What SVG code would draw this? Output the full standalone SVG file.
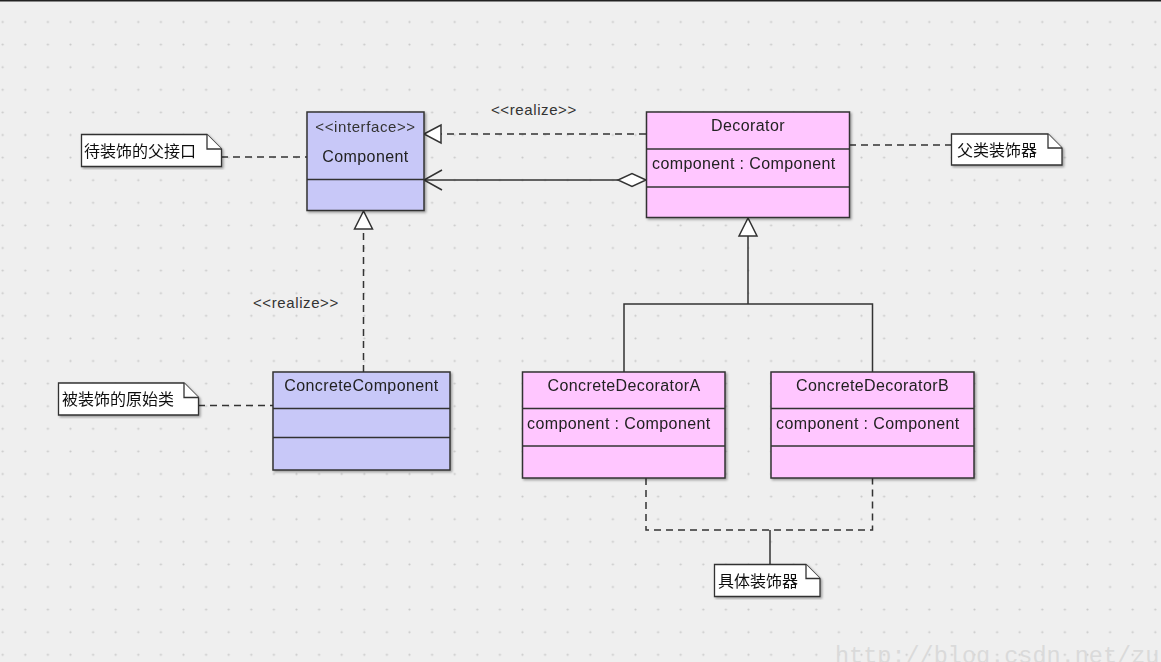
<svg xmlns="http://www.w3.org/2000/svg" width="1161" height="662" viewBox="0 0 1161 662">
<defs>
<pattern id="grid" patternUnits="userSpaceOnUse" x="-8.6" y="10.7" width="22.6" height="22.6">
<circle cx="11.3" cy="11.3" r="1.1" fill="#c9c9c9"/>
</pattern>
<filter id="sh" x="-5%" y="-5%" width="115%" height="115%">
<feDropShadow dx="1.5" dy="1.5" stdDeviation="0.8" flood-color="#000" flood-opacity="0.35"/>
</filter>
</defs>
<style>
.bg{fill:#efefef}
.iface{fill:#c8c8f8;stroke:#333;stroke-width:1.5}
.deco{fill:#ffc6ff;stroke:#333;stroke-width:1.5}
.div{stroke:#333;stroke-width:1.5}
.note{fill:#fff;stroke:#333;stroke-width:1.3}
.t{font-family:"Liberation Sans",Arial,sans-serif;font-size:16px;fill:#222;letter-spacing:0.4px}
.s{font-family:"Liberation Sans",Arial,sans-serif;font-size:15px;fill:#333;letter-spacing:0.6px}
.c{font-family:"Liberation Sans","Noto Sans CJK SC",sans-serif;font-size:16px;fill:#111}
.dash{fill:none;stroke:#333;stroke-width:1.5;stroke-dasharray:7,5}
.solid{fill:none;stroke:#333;stroke-width:1.5}
.hollow{fill:#fff;stroke:#333;stroke-width:1.5}
</style>
<rect class="bg" x="0" y="0" width="1161" height="662"/>
<rect x="0" y="0" width="1161" height="662" fill="url(#grid)"/>
<rect x="0" y="0" width="1161" height="1.5" fill="#222"/>

<g id="connectors">
<path class="dash" d="M646,134 H441"/>
<path class="hollow" d="M424,134 L441,125 L441,143 Z"/>
<text class="s" x="491" y="115">&lt;&lt;realize&gt;&gt;</text>
<path class="solid" d="M424,180 H618"/>
<path class="solid" d="M442,170 L424,180 L442,190"/>
<path class="hollow" d="M646,180 L632,173.5 L618,180 L632,186.5 Z"/>
<path class="dash" d="M363.5,372 V229"/>
<path class="hollow" d="M363.5,211 L354.5,229 L372.5,229 Z"/>
<text class="s" x="253" y="308">&lt;&lt;realize&gt;&gt;</text>
<path class="solid" d="M624,372 V304 H872.5 V372 M748,304 V236"/>
<path class="hollow" d="M748,218 L739,236 L757,236 Z"/>
<path class="dash" d="M221,157 H307"/>
<path class="dash" d="M849,145 H951"/>
<path class="dash" d="M198,405.5 H273"/>
<path class="dash" d="M646,478 V530 H872.5 V478"/>
<path class="solid" d="M770,530 V564"/>
</g>

<g id="component" filter="url(#sh)">
<rect class="iface" x="307" y="112" width="117" height="98.5"/>
<line class="div" x1="307" y1="179.5" x2="424" y2="179.5"/>
<text class="s" x="365.5" y="132" text-anchor="middle">&lt;&lt;interface&gt;&gt;</text>
<text class="t" x="365.5" y="162" text-anchor="middle">Component</text>
</g>

<g id="decorator" filter="url(#sh)">
<rect class="deco" x="646.5" y="112" width="203" height="105.5"/>
<line class="div" x1="646.5" y1="149" x2="849.5" y2="149"/>
<line class="div" x1="646.5" y1="187" x2="849.5" y2="187"/>
<text class="t" x="748" y="131" text-anchor="middle">Decorator</text>
<text class="t" x="652" y="169">component : Component</text>
</g>

<g id="concreteComponent" filter="url(#sh)">
<rect class="iface" x="273" y="372" width="177" height="98"/>
<line class="div" x1="273" y1="408.5" x2="450" y2="408.5"/>
<line class="div" x1="273" y1="437.5" x2="450" y2="437.5"/>
<text class="t" x="361.5" y="391" text-anchor="middle">ConcreteComponent</text>
</g>

<g id="concreteDecoratorA" filter="url(#sh)">
<rect class="deco" x="522.5" y="372" width="202.5" height="106"/>
<line class="div" x1="522.5" y1="408.5" x2="725" y2="408.5"/>
<line class="div" x1="522.5" y1="446" x2="725" y2="446"/>
<text class="t" x="624" y="391" text-anchor="middle">ConcreteDecoratorA</text>
<text class="t" x="527" y="429">component : Component</text>
</g>

<g id="concreteDecoratorB" filter="url(#sh)">
<rect class="deco" x="771" y="372" width="203" height="106"/>
<line class="div" x1="771" y1="408.5" x2="974" y2="408.5"/>
<line class="div" x1="771" y1="446" x2="974" y2="446"/>
<text class="t" x="872.5" y="391" text-anchor="middle">ConcreteDecoratorB</text>
<text class="t" x="776" y="429">component : Component</text>
</g>

<g id="note1" filter="url(#sh)">
<path class="note" d="M81.5,134.5 H207 L221.5,149 V166.5 H81.5 Z"/>
<path class="note" d="M207,134.5 V149 H221.5" fill="none"/>
<text class="c" x="84" y="157">待装饰的父接口</text>
</g>

<g id="note2" filter="url(#sh)">
<path class="note" d="M951.5,134 H1048 L1062,148 V165 H951.5 Z"/>
<path class="note" d="M1048,134 V148 H1062" fill="none"/>
<text class="c" x="957" y="156">父类装饰器</text>
</g>

<g id="note3" filter="url(#sh)">
<path class="note" d="M58.5,383 H184 L198.5,397.5 V415 H58.5 Z"/>
<path class="note" d="M184,383 V397.5 H198.5" fill="none"/>
<text class="c" x="62" y="405">被装饰的原始类</text>
</g>

<g id="note4" filter="url(#sh)">
<path class="note" d="M714.5,564.5 H806 L820,578.5 V596.5 H714.5 Z"/>
<path class="note" d="M806,564.5 V578.5 H820" fill="none"/>
<text class="c" x="718" y="587">具体装饰器</text>
</g>

<text x="835" y="663" font-family="'Liberation Mono',monospace" font-size="23.5" fill="#dadada">http://blog.csdn.net/zu</text>
</svg>
